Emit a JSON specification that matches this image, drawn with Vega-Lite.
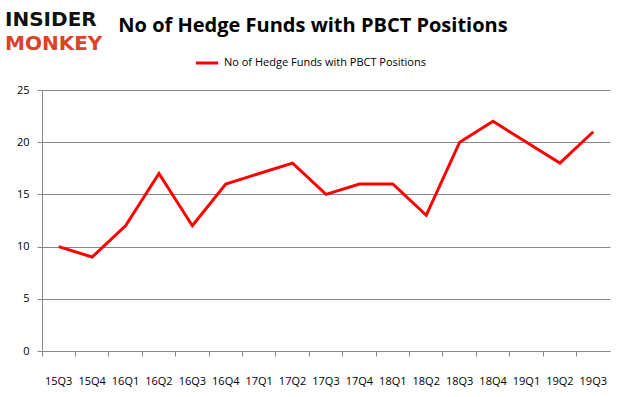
{
  "$schema": "https://vega.github.io/schema/vega-lite/v6.json",
  "autosize": "none",
  "width": 568,
  "height": 261,
  "padding": {"left": 42, "top": 90, "right": 16, "bottom": 46},
  "background": "white",
  "title": {
    "text": "No of Hedge Funds with PBCT Positions",
    "font": "Open Sans",
    "fontSize": 20,
    "fontWeight": "bold",
    "color": "#000000",
    "anchor": "middle",
    "dx": -13,
    "offset": -26
  },
  "config": {
    "view": {"stroke": null},
    "axis": {
      "labelFont": "Open Sans",
      "labelFontSize": 11,
      "labelColor": "#000000",
      "domainColor": "#868686",
      "tickColor": "#868686",
      "gridColor": "#868686",
      "tickSize": 5
    }
  },
  "layer": [
    {
      "data": {
        "values": [
          {"q": "15Q3", "v": 10}, {"q": "15Q4", "v": 9}, {"q": "16Q1", "v": 12},
          {"q": "16Q2", "v": 17}, {"q": "16Q3", "v": 12}, {"q": "16Q4", "v": 16},
          {"q": "17Q1", "v": 17}, {"q": "17Q2", "v": 18}, {"q": "17Q3", "v": 15},
          {"q": "17Q4", "v": 16}, {"q": "18Q1", "v": 16}, {"q": "18Q2", "v": 13},
          {"q": "18Q3", "v": 20}, {"q": "18Q4", "v": 22}, {"q": "19Q1", "v": 20},
          {"q": "19Q2", "v": 18}, {"q": "19Q3", "v": 21}
        ]
      },
      "mark": {"type": "line", "strokeWidth": 3, "strokeJoin": "miter"},
      "encoding": {
        "x": {
          "field": "q", "type": "ordinal", "sort": null,
          "scale": {"type": "band", "paddingInner": 0, "paddingOuter": 0},
          "axis": {"title": null, "labelAngle": 0, "bandPosition": 0, "grid": false, "labelPadding": 19, "labelOffset": 0}
        },
        "y": {
          "field": "v", "type": "quantitative",
          "scale": {"domain": [0, 25]},
          "axis": {"title": null, "values": [0, 5, 10, 15, 20, 25], "grid": true, "labelPadding": 8}
        },
        "color": {
          "datum": "No of Hedge Funds with PBCT Positions",
          "type": "nominal",
          "scale": {"range": ["#ff0000"]},
          "legend": {
            "title": null,
            "orient": "none",
            "legendX": 152,
            "legendY": -40,
            "symbolType": "stroke",
            "symbolStrokeWidth": 3,
            "symbolSize": 500,
            "labelFont": "Open Sans",
            "labelFontSize": 11,
            "labelLimit": 0,
            "labelColor": "#000000"
          }
        }
      }
    },
    {
      "data": {"values": [{"t": "INSIDER"}]},
      "mark": {"type": "text", "font": "DejaVu Sans", "fontWeight": "bold", "fontSize": 20, "color": "#111111", "align": "left", "baseline": "alphabetic"},
      "encoding": {"text": {"field": "t"}, "x": {"value": -37}, "y": {"value": -64}}
    },
    {
      "data": {"values": [{"t": "MONKEY"}]},
      "mark": {"type": "text", "font": "DejaVu Sans", "fontWeight": "bold", "fontSize": 20, "color": "#d9432a", "align": "left", "baseline": "alphabetic"},
      "encoding": {"text": {"field": "t"}, "x": {"value": -37}, "y": {"value": -40}}
    }
  ]
}
